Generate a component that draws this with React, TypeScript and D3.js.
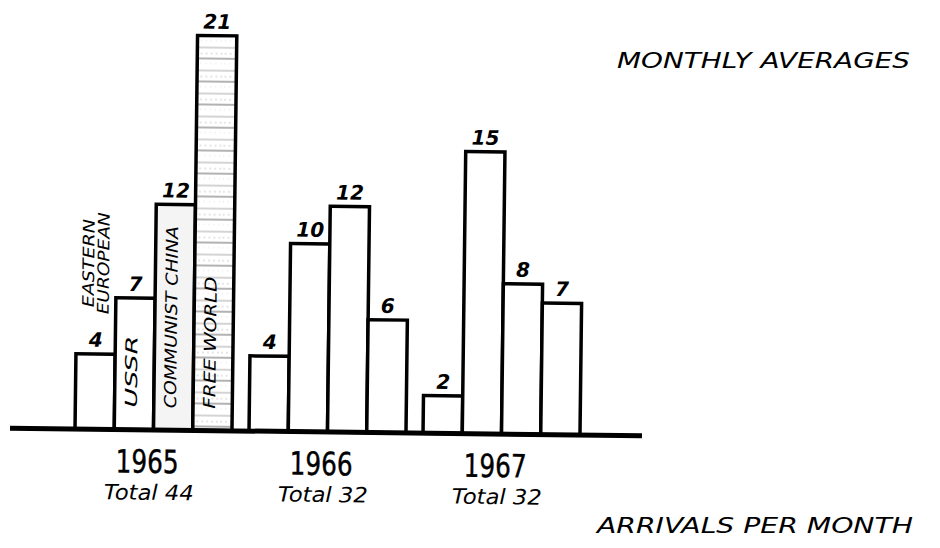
import * as d3 from "d3";

const years = ["1965", "1966", "1967"];
const totals = [44, 32, 32];
const categories = ["EASTERN EUROPEAN", "USSR", "COMMUNIST CHINA", "FREE WORLD"];
const values1965 = [4, 7, 12, 21];
const values1966 = [4, 10, 12, 6];
const values1967 = [2, 15, 8, 7];
const seriesByYear = [values1965, values1966, values1967];

const W = 940;
const H = 548;
const BASE = 432;
const SANS = "'DejaVu Sans', Verdana, sans-serif";
const NARROW = "'DejaVu Sans Condensed', 'Liberation Sans Narrow', sans-serif";

// printed length of the rotated labels, to mimic the wide lettering
const labelLen: Record<string, number> = { EASTERN: 88, EUROPEAN: 102, USSR: 72, "COMMUNIST CHINA": 182, "FREE WORLD": 132 };

export default function App() {
  const x0 = d3.scaleBand<string>().domain(years).range([75, 580]).paddingInner(0.098).paddingOuter(0);
  const x1 = d3.scaleBand<string>().domain(categories).range([0, x0.bandwidth()]).padding(0);
  const y = d3.scaleLinear().domain([0, 21]).range([BASE, 37]);

  return (
    <svg width={W} height={H} style={{ position: "absolute", left: 0, top: 0, background: "#fff" }}>
      <defs>
        <pattern id="freeworld" width="44" height="23" patternUnits="userSpaceOnUse">
          <rect width="44" height="23" fill="#fff" />
          <line x1="0" x2="44" y1="3" y2="3" stroke="#aaa" strokeWidth="1" />
          <line x1="0" x2="44" y1="9" y2="9" stroke="#ccc" strokeWidth="1" strokeDasharray="2,3" />
          <line x1="0" x2="44" y1="14" y2="14" stroke="#666" strokeWidth="1.2" />
          <line x1="0" x2="44" y1="19" y2="19" stroke="#ddd" strokeWidth="1" strokeDasharray="1,4" />
        </pattern>
      </defs>
      <g transform={`rotate(0.7, 326, ${BASE})`}>
        {years.map((yr, gi) => {
          const gx = x0(yr) ?? 0;
          const vals = seriesByYear[gi];
          const cx = gx + x0.bandwidth() / 2;
          return (
            <g key={yr}>
              {categories.map((c, i) => {
                const bx = gx + (x1(c) ?? 0);
                const by = y(vals[i]);
                const fill = gi === 0 && i === 3 ? "url(#freeworld)" : gi === 0 && i === 2 ? "#f4f4f4" : "#fff";
                return (
                  <g key={c}>
                    <rect x={bx} y={by} width={x1.bandwidth()} height={BASE - by} fill={fill} stroke="#000" strokeWidth={3.5} />
                    <text
                      x={bx + x1.bandwidth() / 2}
                      y={by - 7}
                      textAnchor="middle"
                      fontFamily={SANS}
                      fontWeight="bold"
                      fontStyle="italic"
                      fontSize={20}
                    >
                      {vals[i]}
                    </text>
                  </g>
                );
              })}
              <text
                x={cx - 6}
                y={475}
                textAnchor="middle"
                fontFamily={NARROW}
                fontSize={32}
                stroke="#000"
                strokeWidth={0.4}
                textLength={63}
                lengthAdjust="spacingAndGlyphs"
              >
                {yr}
              </text>
              <text x={cx - 4} y={502} textAnchor="middle" fontFamily={SANS} fontStyle="italic" fontSize={21} textLength={90} lengthAdjust="spacingAndGlyphs">
                {`Total ${totals[gi]}`}
              </text>
            </g>
          );
        })}
        {/* category labels on the 1965 group */}
        {categories.map((c, i) => {
          const bx = (x0(years[0]) ?? 0) + (x1(c) ?? 0) + x1.bandwidth() / 2;
          if (i === 0) {
            const words = c.split(" ");
            return (
              <g key={c}>
                {words.map((w, wi) => (
                  <text
                    key={w}
                    transform={`translate(${bx - 8 + wi * 15},266) rotate(-90)`}
                    textAnchor="middle"
                    dominantBaseline="central"
                    fontFamily={SANS}
                    fontStyle="italic"
                    fontSize={16}
                    textLength={labelLen[w]}
                    lengthAdjust="spacingAndGlyphs"
                  >
                    {w}
                  </text>
                ))}
              </g>
            );
          }
          return (
            <text
              key={c}
              transform={`translate(${bx - 3},410) rotate(-90)`}
              textAnchor="start"
              dominantBaseline="central"
              fontFamily={SANS}
              fontStyle="italic"
              fontSize={16.5}
              textLength={labelLen[c]}
              lengthAdjust="spacingAndGlyphs"
            >
              {c}
            </text>
          );
        })}
        <line x1={10} x2={642} y1={BASE} y2={BASE} stroke="#000" strokeWidth={5} />
      </g>
      <text x={617} y={68} fontFamily={SANS} fontStyle="italic" fontSize={22} textLength={293} lengthAdjust="spacingAndGlyphs">
        MONTHLY AVERAGES
      </text>
      <text x={597} y={533} fontFamily={SANS} fontStyle="italic" fontSize={22} textLength={316} lengthAdjust="spacingAndGlyphs">
        ARRIVALS PER MONTH
      </text>
    </svg>
  );
}
